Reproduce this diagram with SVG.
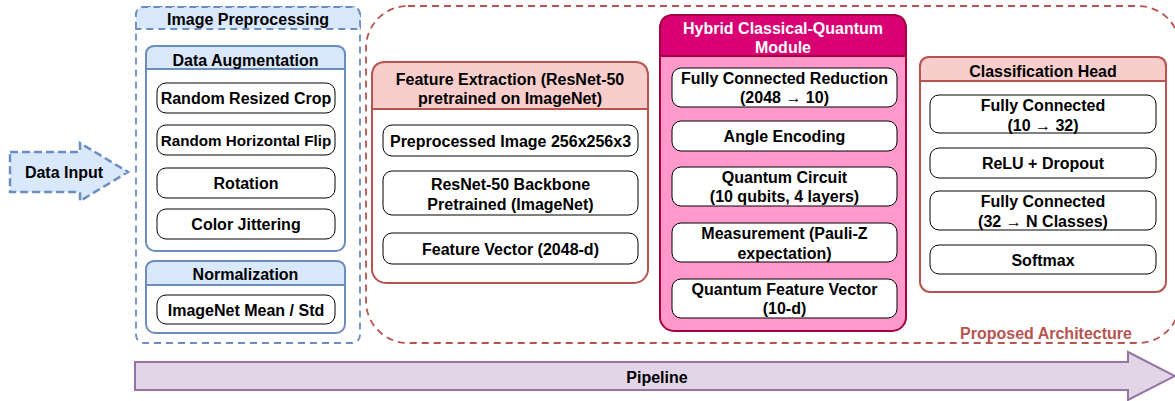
<svg xmlns="http://www.w3.org/2000/svg" width="1175" height="401" viewBox="0 0 1175 401">
<style>
text{font-family:"Liberation Sans",Arial,Helvetica,sans-serif;font-weight:bold;font-size:16px;fill:#000;text-anchor:middle}
.item{fill:#fff;stroke:#000;stroke-width:1}
.blue{stroke:#6c8ebf;stroke-width:2}
.bluefill{fill:#dae8fc}
.red{stroke:#b85450;stroke-width:2}
.redfill{fill:#f8cecc}
.wt{fill:#fff}
</style>
<rect width="1175" height="401" fill="#fff"/>

<g id="proposed-architecture">
<rect x="366" y="6" width="814" height="337" rx="42" fill="none" stroke="#b85450" stroke-width="1.8" stroke-dasharray="7,5"/>
<text x="1046" y="339" style="fill:#b85450">Proposed Architecture</text>
</g>

<g id="pipeline">
<path d="M135,362 H1128 V352 L1175,376 L1128,400 V390 H135 Z" fill="#e1d5e7" stroke="#9673a6" stroke-width="2"/>
<text x="657" y="383">Pipeline</text>
</g>

<g id="data-input">
<path d="M10,152 H80 V143 L128,172 L80,201 V192 H10 Z" fill="#dae8fc" stroke="#6c8ebf" stroke-width="2.5" stroke-dasharray="8,4"/>
<text x="64" y="178">Data Input</text>
</g>

<g id="image-preprocessing">
<rect x="136" y="7" width="224" height="336" rx="8" fill="#fff" stroke="#6c8ebf" stroke-width="1.8" stroke-dasharray="7,5"/>
<path d="M136,29 V15 Q136,7 144,7 H352 Q360,7 360,15 V29 Z" fill="#dae8fc" stroke="#6c8ebf" stroke-width="1.8" stroke-dasharray="7,5"/>
<text x="248" y="25">Image Preprocessing</text>
</g>

<g id="data-augmentation">
<rect x="146" y="46" width="199" height="205" rx="9" fill="#fff" class="blue"/>
<path d="M146,69 V55 Q146,46 155,46 H336 Q345,46 345,55 V69 Z" class="blue bluefill"/>
<text x="245.5" y="65.5">Data Augmentation</text>
</g>
<g id="random-resized-crop">
<rect x="157" y="83" width="178" height="30" rx="9" class="item"/>
<text x="246" y="104">Random Resized Crop</text>
</g>
<g id="random-horizontal-flip">
<rect x="157" y="125" width="178" height="30" rx="9" class="item"/>
<text x="246" y="146" style="font-size:15.2px">Random Horizontal Flip</text>
</g>
<g id="rotation">
<rect x="157" y="168" width="178" height="30" rx="9" class="item"/>
<text x="246" y="189">Rotation</text>
</g>
<g id="color-jittering">
<rect x="157" y="209" width="178" height="30" rx="9" class="item"/>
<text x="246" y="230">Color Jittering</text>
</g>

<g id="normalization">
<rect x="146" y="261" width="199" height="72" rx="9" fill="#fff" class="blue"/>
<path d="M146,285 V270 Q146,261 155,261 H336 Q345,261 345,270 V285 Z" class="blue bluefill"/>
<text x="245.5" y="280">Normalization</text>
</g>
<g id="imagenet-mean-std">
<rect x="157" y="295" width="178" height="29" rx="9" class="item"/>
<text x="246" y="315.5">ImageNet Mean / Std</text>
</g>

<g id="feature-extraction">
<rect x="372" y="62" width="276" height="221" rx="14" fill="#fff" class="red"/>
<path d="M372,109 V76 Q372,62 386,62 H634 Q648,62 648,76 V109 Z" class="red redfill"/>
<text x="510" y="85">Feature Extraction (ResNet-50</text>
<text x="510" y="104">pretrained on ImageNet)</text>
</g>
<g id="preprocessed-image">
<rect x="383" y="125" width="255" height="31" rx="9" class="item"/>
<text x="510.5" y="146.5">Preprocessed Image 256x256x3</text>
</g>
<g id="resnet-backbone">
<rect x="383" y="171" width="255" height="44" rx="9" class="item"/>
<text x="510.5" y="189.5">ResNet-50 Backbone</text>
<text x="510.5" y="209.5">Pretrained (ImageNet)</text>
</g>
<g id="feature-vector">
<rect x="383" y="233" width="255" height="31" rx="9" class="item"/>
<text x="510.5" y="254.5">Feature Vector (2048-d)</text>
</g>

<g id="hybrid-module">
<rect x="660" y="15" width="246" height="316" rx="14" fill="#ff99cc" stroke="#a50040" stroke-width="2"/>
<path d="M660,56 V29 Q660,15 674,15 H892 Q906,15 906,29 V56 Z" fill="#d80073" stroke="#a50040" stroke-width="2"/>
<text x="783" y="34" class="wt">Hybrid Classical-Quantum</text>
<text x="783" y="53" class="wt">Module</text>
</g>
<g id="fc-reduction">
<rect x="672" y="68" width="225" height="39" rx="9" class="item"/>
<text x="784.5" y="83.5">Fully Connected Reduction</text>
<text x="784.5" y="103">(2048 → 10)</text>
</g>
<g id="angle-encoding">
<rect x="672" y="121" width="225" height="30" rx="9" class="item"/>
<text x="784.5" y="142">Angle Encoding</text>
</g>
<g id="quantum-circuit">
<rect x="672" y="167" width="225" height="39" rx="9" class="item"/>
<text x="784.5" y="183">Quantum Circuit</text>
<text x="784.5" y="202">(10 qubits, 4 layers)</text>
</g>
<g id="measurement">
<rect x="672" y="223" width="225" height="39" rx="9" class="item"/>
<text x="784.5" y="239">Measurement (Pauli-Z</text>
<text x="784.5" y="258.5">expectation)</text>
</g>
<g id="quantum-feature-vector">
<rect x="672" y="279" width="225" height="39" rx="9" class="item"/>
<text x="784.5" y="295">Quantum Feature Vector</text>
<text x="784.5" y="314">(10-d)</text>
</g>

<g id="classification-head">
<rect x="920" y="57" width="246" height="235" rx="10" fill="#fff" class="red"/>
<path d="M920,81 V67 Q920,57 930,57 H1156 Q1166,57 1166,67 V81 Z" class="red redfill"/>
<text x="1043" y="76.5">Classification Head</text>
</g>
<g id="fc-10-32">
<rect x="930" y="95" width="226" height="38" rx="9" class="item"/>
<text x="1043" y="111">Fully Connected</text>
<text x="1043" y="131">(10 → 32)</text>
</g>
<g id="relu-dropout">
<rect x="930" y="148" width="226" height="30" rx="9" class="item"/>
<text x="1043" y="169">ReLU + Dropout</text>
</g>
<g id="fc-32-n">
<rect x="930" y="191" width="226" height="39" rx="9" class="item"/>
<text x="1043" y="207">Fully Connected</text>
<text x="1043" y="227">(32 → N Classes)</text>
</g>
<g id="softmax">
<rect x="930" y="245" width="226" height="29" rx="9" class="item"/>
<text x="1043" y="265.5">Softmax</text>
</g>

<g id="connectors"></g>
</svg>
